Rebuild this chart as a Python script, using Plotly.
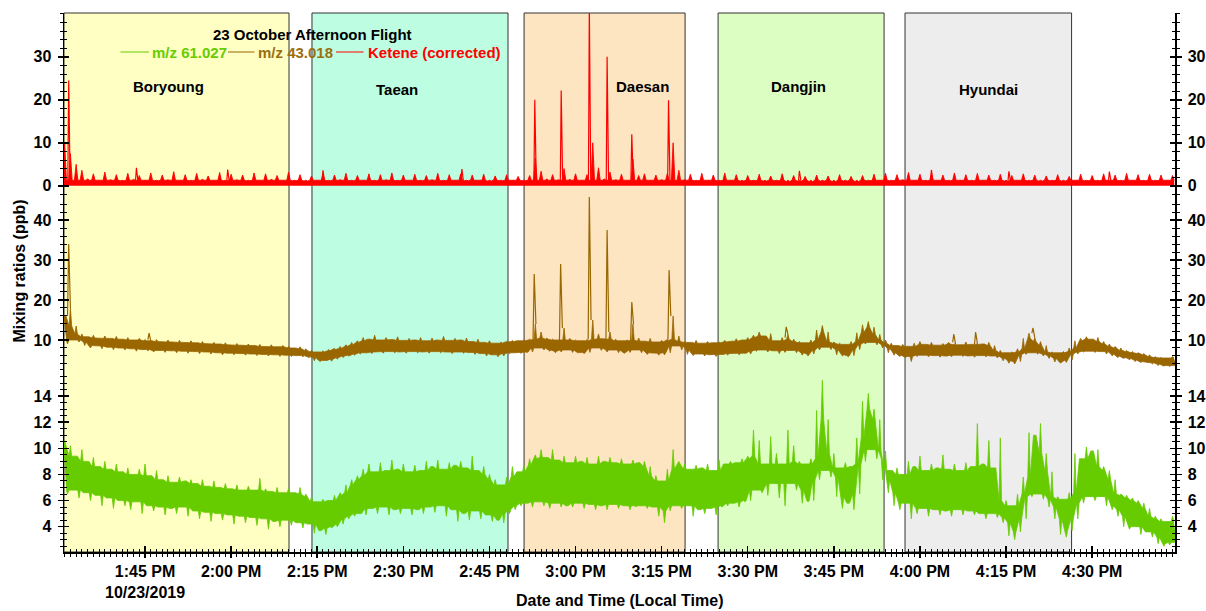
import plotly.graph_objects as go
from datetime import datetime, timedelta
import math

# ---------------- data ----------------
BASE = datetime(2019, 10, 23, 13, 30)
minute_offsets = list(range(1, 195))  # minutes after 1:30 PM

ketene_core = 1.3  # level of the dense part of the ketene noise band
ketene_hi = [
    10.0, 7.5, 5.0, 3.6, 1.6, 2.8, 1.3, 3.2, 1.4, 2.6,
    1.2, 2.9, 1.5, 2.4, 1.3, 3.0, 1.2, 2.5, 1.4, 3.3,
    1.3, 2.6, 1.2, 2.9, 1.5, 2.3, 1.3, 3.1, 1.2, 2.7,
    1.4, 2.5, 1.2, 3.0, 1.3, 2.8, 1.5, 2.4, 1.3, 3.2,
    1.2, 2.6, 1.1, 2.3, 1.3, 2.7, 1.2, 2.5, 1.4, 2.9,
    1.2, 2.4, 1.3, 2.8, 1.2, 2.6, 1.4, 3.0, 1.2, 2.5,
    1.3, 2.7, 1.2, 2.4, 1.4, 2.9, 1.2, 2.6, 1.3, 2.8,
    1.2, 2.5, 1.3, 2.7, 1.1, 2.3, 1.2, 2.6, 1.3, 2.2,
    1.2, 2.4, 6.4, 3.4, 1.6, 2.6, 1.4, 4.0, 1.5, 2.8,
    1.3, 2.6, 10.0, 4.2, 1.6, 3.2, 1.4, 2.7, 1.3, 6.2,
    2.4, 2.8, 1.3, 2.5, 1.4, 2.9, 10.0, 3.6, 1.4, 2.7,
    1.2, 2.9, 1.3, 2.5, 1.2, 3.0, 1.3, 2.6, 1.1, 2.4,
    1.2, 2.7, 1.1, 2.3, 1.2, 2.8, 1.0, 2.4, 1.1, 2.2,
    1.0, 2.5, 1.1, 2.3, 1.0, 2.6, 1.1, 2.2, 1.0, 2.4,
    1.2, 2.7, 1.3, 2.9, 1.2, 2.6, 1.4, 3.1, 1.3, 2.7,
    1.2, 2.8, 1.3, 2.5, 1.2, 3.0, 1.3, 2.6, 1.2, 2.9,
    1.3, 2.5, 1.2, 2.7, 1.1, 2.4, 1.3, 2.8, 1.2, 2.5,
    1.1, 2.3, 1.2, 2.6, 1.1, 2.2, 1.3, 2.7, 1.2, 2.4,
    1.2, 2.8, 1.3, 2.5, 1.2, 2.9, 1.3, 2.6, 1.2, 2.7,
    1.2, 2.5, 1.3, 2.4,
]
ketene_spike_t = [1.7, 13.5, 29.4, 46.0, 70.2, 82.9, 87.5, 92.4, 95.5, 99.8, 106.2, 129.0, 152.0, 165.5, 183.0]
ketene_spike_v = [24.5, 4.2, 3.8, 3.6, 3.9, 20.0, 22.2, 42.0, 30.0, 12.0, 19.9, 3.5, 3.7, 3.4, 3.3]

mz43_lo = [
    9.0, 10.0, 9.5, 8.6, 8.0, 8.5, 7.8, 8.2, 7.6, 8.0,
    7.5, 7.8, 7.2, 7.6, 7.3, 7.0, 7.4, 6.9, 7.3, 6.8,
    7.2, 6.7, 7.1, 6.6, 7.0, 6.5, 6.8, 6.3, 6.7, 6.3,
    6.6, 6.2, 6.5, 6.1, 6.4, 6.0, 6.3, 5.9, 6.2, 5.9,
    6.1, 5.8, 5.6, 4.8, 4.6, 4.9, 4.7, 5.2, 5.6, 6.0,
    6.2, 6.5, 6.8, 6.6, 7.0, 6.7, 7.1, 6.8, 7.0, 6.7,
    7.1, 6.8, 7.0, 6.7, 7.1, 6.8, 7.0, 6.6, 7.0, 6.7,
    6.9, 6.4, 6.6, 6.0, 6.3, 5.8, 6.0, 6.6, 6.8, 6.7,
    6.9, 7.0, 8.0, 7.5, 7.2, 6.8, 7.0, 7.5, 6.9, 6.8,
    6.6, 6.9, 8.0, 7.4, 7.0, 7.5, 6.8, 6.7, 6.9, 7.5,
    6.8, 6.4, 6.7, 6.2, 6.3, 6.8, 8.5, 7.5, 6.4, 6.1,
    6.5, 6.0, 6.3, 5.9, 6.4, 6.2, 6.6, 6.3, 6.7, 6.5,
    7.2, 7.5, 7.0, 7.3, 6.6, 6.9, 7.4, 6.8, 6.2, 6.0,
    6.5, 7.5, 8.2, 7.6, 6.3, 6.0, 5.8, 6.1, 7.6, 9.0,
    9.4, 8.8, 8.0, 6.8, 6.2, 5.9, 5.6, 4.6, 5.9, 6.2,
    5.8, 6.1, 5.7, 6.0, 5.8, 6.2, 5.9, 6.0, 5.7, 6.1,
    5.8, 6.0, 5.5, 4.8, 4.2, 4.0, 4.6, 6.4, 6.8, 6.5,
    6.0, 5.4, 4.5, 4.2, 4.4, 5.0, 6.5, 7.0, 7.2, 6.9,
    7.1, 6.5, 6.0, 5.6, 5.4, 5.0, 4.6, 4.4, 4.3, 4.0,
    3.6, 3.5, 3.4, 3.6,
]
mz43_hi = [
    16.0, 18.0, 13.5, 11.5, 10.8, 11.2, 10.5, 11.0, 10.4, 10.9,
    10.2, 10.6, 10.0, 10.4, 10.1, 9.8, 10.1, 9.6, 10.0, 9.5,
    9.9, 9.4, 9.8, 9.3, 9.6, 9.1, 9.4, 9.0, 9.3, 8.8,
    9.1, 8.7, 9.0, 8.6, 8.9, 8.4, 8.8, 8.3, 8.6, 8.4,
    8.0, 8.3, 7.8, 7.4, 7.0, 7.3, 7.6, 7.9, 8.4, 8.8,
    9.4, 9.8, 10.6, 10.2, 11.2, 10.0, 10.6, 10.1, 10.8, 9.9,
    10.4, 10.0, 10.6, 9.8, 10.5, 10.0, 10.9, 9.9, 10.4, 10.0,
    10.5, 9.6, 10.2, 9.4, 9.8, 9.2, 9.5, 9.6, 9.9, 9.8,
    10.0, 10.2, 14.0, 12.0, 10.5, 10.2, 10.0, 13.0, 10.4, 10.0,
    9.8, 10.1, 15.0, 11.5, 10.3, 12.0, 10.2, 9.8, 10.0, 14.0,
    10.5, 9.7, 10.4, 9.5, 9.9, 10.2, 16.0, 11.0, 9.6, 9.4,
    9.9, 9.2, 9.6, 9.3, 9.5, 9.9, 9.7, 10.3, 10.0, 10.6,
    11.2, 12.0, 11.0, 11.6, 9.8, 10.6, 11.5, 10.2, 9.6, 9.3,
    10.0, 12.5, 13.6, 12.0, 9.5, 9.2, 8.9, 9.6, 11.8, 13.8,
    14.6, 13.2, 11.4, 10.0, 9.2, 8.6, 8.9, 8.4, 9.2, 9.6,
    8.9, 9.4, 8.7, 9.1, 9.4, 9.0, 8.8, 9.5, 8.9, 9.2,
    9.0, 9.4, 8.6, 7.4, 6.8, 7.0, 7.8, 10.4, 11.7, 10.6,
    9.6, 8.6, 7.0, 6.8, 7.1, 8.0, 9.8, 10.4, 10.8, 10.2,
    10.6, 9.6, 9.0, 8.4, 8.0, 7.4, 7.1, 6.8, 6.6, 6.3,
    5.8, 5.6, 5.5, 5.9,
]
mz43_spike_t = [1.7, 15.7, 82.8, 87.4, 92.4, 95.5, 99.8, 106.3, 126.7, 155.9, 159.7, 169.7]
mz43_spike_v = [34.0, 11.7, 26.5, 29.0, 46.0, 37.5, 19.5, 27.5, 13.3, 11.5, 12.0, 13.0]

mz61_lo = [
    6.5, 6.8, 6.2, 6.6, 6.0, 6.4, 5.6, 6.2, 5.4, 6.0,
    5.6, 5.3, 5.9, 5.0, 5.6, 5.2, 5.5, 4.9, 5.4, 5.0,
    5.5, 4.8, 5.2, 4.6, 5.1, 4.4, 5.0, 4.5, 4.9, 4.2,
    4.8, 4.3, 4.7, 4.1, 4.6, 3.8, 4.4, 4.0, 4.5, 4.1,
    4.3, 3.9, 4.2, 3.5, 3.7, 3.4, 3.9, 4.0, 4.2, 4.6,
    4.8, 5.0, 4.9, 5.4, 5.0, 5.5, 4.9, 5.3, 5.0, 5.4,
    4.9, 5.3, 5.0, 5.5, 5.1, 5.6, 4.8, 5.3, 4.4, 5.0,
    4.5, 5.2, 4.6, 4.9, 4.4, 4.5, 4.3, 5.0, 5.3, 5.6,
    5.8, 5.5, 5.9, 5.6, 5.4, 5.8, 5.5, 5.6, 5.5, 5.8,
    5.4, 5.7, 5.3, 5.6, 5.3, 5.7, 5.4, 5.6, 5.3, 5.5,
    5.6, 5.4, 5.5, 4.8, 4.3, 5.2, 5.6, 5.4, 5.6, 4.8,
    5.3, 5.0, 5.4, 4.9, 5.5, 5.6, 5.8, 5.5, 5.9, 6.0,
    6.8, 6.6, 6.4, 7.3, 6.2, 5.6, 7.3, 6.8, 5.8, 5.9,
    6.0, 7.6, 8.3, 7.8, 6.3, 5.4, 5.8, 5.3, 6.5, 9.0,
    9.9, 9.2, 7.6, 6.6, 5.6, 5.3, 5.8, 4.6, 5.0, 5.4,
    4.8, 5.3, 4.9, 5.2, 4.8, 5.3, 4.9, 5.2, 4.9, 5.0,
    4.6, 5.0, 4.7, 4.3, 3.3, 3.0, 3.6, 4.6, 6.3, 6.5,
    6.1, 5.5, 4.6, 3.4, 3.2, 3.7, 4.6, 5.8, 6.3, 6.0,
    6.3, 5.6, 5.3, 4.8, 4.0, 3.8, 4.0, 3.4, 3.6, 3.2,
    2.7, 2.5, 2.6, 2.8,
]
mz61_hi = [
    10.6, 10.2, 9.4, 9.9, 9.0, 9.3, 8.6, 9.0, 8.4, 8.8,
    8.2, 8.5, 8.0, 8.4, 8.8, 7.9, 8.3, 7.6, 7.9, 7.4,
    7.8, 7.5, 7.6, 7.3, 7.6, 7.1, 7.5, 7.0, 7.3, 6.9,
    7.2, 6.8, 7.1, 6.8, 7.7, 6.9, 6.7, 7.0, 6.6, 6.9,
    6.6, 7.0, 6.5, 6.3, 5.9, 6.1, 6.0, 6.4, 6.6, 7.2,
    7.6, 7.9, 8.4, 8.8, 8.2, 8.9, 8.3, 9.1, 8.4, 8.8,
    8.2, 8.7, 8.3, 9.0, 8.6, 9.1, 8.4, 8.9, 8.7, 9.0,
    8.5, 9.4, 8.3, 8.6, 8.0, 7.6, 7.2, 7.8, 8.6, 8.2,
    8.7, 9.2, 9.5, 9.9, 9.3, 9.9, 9.1, 9.4, 8.9, 9.4,
    9.0, 9.3, 8.8, 9.4, 9.0, 9.3, 8.9, 9.2, 8.8, 9.1,
    8.9, 9.0, 8.6, 7.9, 7.5, 8.4, 9.9, 9.0, 8.8, 8.4,
    8.7, 8.5, 8.8, 8.3, 9.1, 8.8, 9.0, 8.9, 9.2, 9.4,
    11.4, 10.6, 8.8, 10.9, 9.6, 8.8, 11.4, 10.2, 9.0, 8.8,
    9.2, 12.9, 15.2, 12.2, 9.6, 8.5, 8.9, 8.6, 10.8, 13.6,
    14.2, 13.0, 12.2, 9.8, 8.3, 8.5, 8.0, 9.0, 8.6, 9.4,
    8.3, 8.8, 8.5, 9.5, 8.4, 8.8, 8.3, 8.9, 8.6, 11.9,
    8.8, 10.6, 8.5, 10.8, 6.0, 5.6, 6.5, 7.8, 11.2, 11.0,
    11.9, 9.6, 8.2, 6.3, 6.1, 6.6, 9.6, 9.2, 10.1, 9.8,
    9.9, 8.6, 8.3, 7.6, 6.5, 6.4, 6.2, 6.0, 5.8, 5.4,
    4.8, 4.6, 4.4, 4.8,
]

region_names = ["Boryoung", "Taean", "Daesan", "Dangjin", "Hyundai"]
region_start = ["2019-10-23 13:30:53", "2019-10-23 14:14:05", "2019-10-23 14:51:02",
                "2019-10-23 15:24:50", "2019-10-23 15:57:24"]
region_end = ["2019-10-23 14:10:05", "2019-10-23 14:48:14", "2019-10-23 15:19:05",
              "2019-10-23 15:53:45", "2019-10-23 16:26:25"]
region_fill = ["#FFFFC4", "#BDFEE2", "#FDE5C2", "#DDFEC3", "#EDEDED"]

tick_times = ["2019-10-23 13:45", "2019-10-23 14:00", "2019-10-23 14:15", "2019-10-23 14:30",
              "2019-10-23 14:45", "2019-10-23 15:00", "2019-10-23 15:15", "2019-10-23 15:30",
              "2019-10-23 15:45", "2019-10-23 16:00", "2019-10-23 16:15", "2019-10-23 16:30"]
tick_labels = ["1:45 PM<br>10/23/2019", "2:00 PM", "2:15 PM", "2:30 PM", "2:45 PM", "3:00 PM",
               "3:15 PM", "3:30 PM", "3:45 PM", "4:00 PM", "4:15 PM", "4:30 PM"]

ketene_ticks = [0, 10, 20, 30]
mz43_ticks = [10, 20, 30, 40]
mz61_ticks = [4, 6, 8, 10, 12, 14]

# ---------------- styling ----------------
FONT = "Liberation Sans, Arial, sans-serif"
GREEN = "#66CC00"
BROWN = "#996600"
RED = "#FF0000"
X_RANGE = ["2019-10-23 13:30:53", "2019-10-23 16:44:26"]

FIG_W, FIG_H = 1206, 611
PL, PR, PT, PB = 64, 1175, 13, 552   # plot area in window pixels


def tstamp(m):
    return BASE + timedelta(minutes=m)


fig = go.Figure()


def add_band(lo, hi, color, yref):
    n = len(lo)
    up_x, up_y, dn_x, dn_y = [], [], [], []
    for i, m in enumerate(minute_offsets):
        nb = range(max(i - 1, 0), min(i + 2, n))
        core_hi = min(hi[j] for j in nb)
        core_lo = max(lo[j] for j in nb)
        if core_lo > core_hi:
            core_lo = core_hi = (core_lo + core_hi) / 2
        up_x += [tstamp(m - 0.22), tstamp(m), tstamp(m + 0.22)]
        up_y += [core_hi, hi[i], core_hi]
        dn_x += [tstamp(m + 0.28), tstamp(m + 0.5), tstamp(m + 0.72)]
        dn_y += [core_lo, lo[i], core_lo]
    fig.add_trace(go.Scatter(x=dn_x, y=dn_y, mode="lines", line=dict(color=color, width=0.8),
                             xaxis="x", yaxis=yref, hoverinfo="skip", showlegend=False))
    fig.add_trace(go.Scatter(x=up_x, y=up_y, mode="lines", line=dict(color=color, width=0.8),
                             fill="tonexty", fillcolor=color,
                             xaxis="x", yaxis=yref, hoverinfo="skip", showlegend=False))


def add_spikes(st, sv, hi, color, yref):
    xs, ys = [], []
    n = len(hi)
    for t, v in zip(st, sv):
        i0 = min(max(int(math.floor(t)) - 1, 0), n - 1)
        i1 = min(max(int(math.ceil(t)) - 1, 0), n - 1)
        xs += [tstamp(t - 0.2), tstamp(t), tstamp(t + 0.3), None]
        ys += [hi[i0], v, hi[i1], None]
    fig.add_trace(go.Scatter(x=xs, y=ys, mode="lines", line=dict(color=color, width=1.2),
                             xaxis="x", yaxis=yref, hoverinfo="skip", showlegend=False,
                             connectgaps=False))


# bottom panel: m/z 61.027
add_band(mz61_lo, mz61_hi, GREEN, "y3")
# middle panel: m/z 43.018
add_band(mz43_lo, mz43_hi, BROWN, "y2")
add_spikes(mz43_spike_t, mz43_spike_v, mz43_hi, BROWN, "y2")

# top panel: ketene -- dense core plus narrow noise spikes each minute
kx, ky = [], []
for m, h in zip(minute_offsets, ketene_hi):
    kx += [tstamp(m - 0.3), tstamp(m), tstamp(m + 0.3)]
    ky += [min(ketene_core, h), max(h, ketene_core), min(ketene_core, h)]
fig.add_trace(go.Scatter(x=kx, y=ky, mode="lines", line=dict(color=RED, width=0.9),
                         fill="tozeroy", fillcolor=RED, xaxis="x", yaxis="y",
                         hoverinfo="skip", showlegend=False))
ksx, ksy = [], []
for t, v in zip(ketene_spike_t, ketene_spike_v):
    ksx += [tstamp(t - 0.15), tstamp(t), tstamp(t + 0.25), None]
    ksy += [ketene_core, v, ketene_core, None]
fig.add_trace(go.Scatter(x=ksx, y=ksy, mode="lines", line=dict(color=RED, width=1.2),
                         xaxis="x", yaxis="y", hoverinfo="skip", showlegend=False))

# dummy traces so overlay axes get drawn
for ya in ["y4", "y5", "y6", "y7", "y8", "y9", "y10", "y11", "y12"]:
    fig.add_trace(go.Scatter(x=[None], y=[None], xaxis="x", yaxis=ya, showlegend=False, hoverinfo="skip"))
fig.add_trace(go.Scatter(x=[None], y=[None], xaxis="x2", yaxis="y3", showlegend=False, hoverinfo="skip"))

tickfont = dict(family=FONT, size=16, color="black", weight="bold")


def yaxis_def(rng, tickvals, minor_dtick, side, inside, labels, domain=None, overlay=None):
    d = dict(range=rng, tickmode="array", tickvals=tickvals,
             ticks="inside" if inside else "outside", ticklen=5, tickwidth=1.5, tickcolor="black",
             showticklabels=labels, tickfont=tickfont, ticklabelstandoff=3,
             showgrid=False, zeroline=False, showline=labels and not inside,
             linecolor="black", linewidth=1.5, side=side, anchor="x", fixedrange=True,
             automargin=False,
             minor=dict(tickmode="linear", tick0=0, dtick=minor_dtick,
                        ticks="inside" if inside else "outside", ticklen=3, tickwidth=1,
                        tickcolor="black", showgrid=False))
    if domain is not None:
        d["domain"] = domain
    if overlay is not None:
        d["overlaying"] = overlay
    return d


top_dom = [0.6586, 1.0]
mid_dom = [0.3377, 0.6586]
bot_dom = [0.0, 0.3377]
top_rng = [-2.6, 40.2]
mid_rng = [2.5, 45.75]
bot_rng = [2.06, 16.0]

layout_axes = dict(
    yaxis=yaxis_def(top_rng, ketene_ticks, 2, "left", False, True, domain=top_dom),
    yaxis2=yaxis_def(mid_rng, mz43_ticks, 2, "left", False, True, domain=mid_dom),
    yaxis3=yaxis_def(bot_rng, mz61_ticks, 0.5, "left", False, True, domain=bot_dom),
    yaxis4=yaxis_def(top_rng, ketene_ticks, 2, "left", True, False, overlay="y"),
    yaxis5=yaxis_def(top_rng, ketene_ticks, 2, "right", False, True, overlay="y"),
    yaxis6=yaxis_def(top_rng, ketene_ticks, 2, "right", True, False, overlay="y"),
    yaxis7=yaxis_def(mid_rng, mz43_ticks, 2, "left", True, False, overlay="y2"),
    yaxis8=yaxis_def(mid_rng, mz43_ticks, 2, "right", False, True, overlay="y2"),
    yaxis9=yaxis_def(mid_rng, mz43_ticks, 2, "right", True, False, overlay="y2"),
    yaxis10=yaxis_def(bot_rng, mz61_ticks, 0.5, "left", True, False, overlay="y3"),
    yaxis11=yaxis_def(bot_rng, mz61_ticks, 0.5, "right", False, True, overlay="y3"),
    yaxis12=yaxis_def(bot_rng, mz61_ticks, 0.5, "right", True, False, overlay="y3"),
)

xaxis = dict(type="date", range=X_RANGE, tickmode="array", tickvals=tick_times, ticktext=tick_labels,
             ticks="outside", ticklen=4, tickwidth=1.5, tickcolor="black", showline=True,
             linecolor="black", linewidth=1.5, anchor="y3", tickfont=tickfont, ticklabelstandoff=0,
             showgrid=False, zeroline=False, fixedrange=True, automargin=False,
             minor=dict(tickmode="linear", tick0="2019-10-23 13:30", dtick=60000, ticks="outside",
                        ticklen=3, tickwidth=1, tickcolor="black", showgrid=False))
xaxis2 = dict(type="date", range=X_RANGE, tickmode="array", tickvals=tick_times,
              ticks="inside", ticklen=6, tickwidth=1.5, tickcolor="black", showline=False,
              showticklabels=False, anchor="y3", overlaying="x", showgrid=False, zeroline=False,
              fixedrange=True, automargin=False,
              minor=dict(tickmode="linear", tick0="2019-10-23 13:30", dtick=60000, ticks="inside",
                         ticklen=3, tickwidth=1, tickcolor="black", showgrid=False))

shapes = []
for s, e, c in zip(region_start, region_end, region_fill):
    shapes.append(dict(type="rect", xref="x", yref="paper", x0=s, x1=e, y0=0, y1=1,
                       fillcolor=c, line=dict(color="#333333", width=1), layer="below"))


def px(xp):
    return (xp - PL) / (PR - PL)


def py(yp):
    return (PB - yp) / (PB - PT)


# legend line samples
for x0, x1, c in [(120.5, 149, GREEN), (228, 254.5, BROWN), (336, 363.6, RED)]:
    shapes.append(dict(type="line", xref="paper", yref="paper", x0=px(x0), x1=px(x1),
                       y0=py(52), y1=py(52), line=dict(color=c, width=1)))

annotations = []


def ann(text, x, y, color="black", size=15, xanchor="center", angle=0):
    annotations.append(dict(text=text, x=x, y=y, xref="paper", yref="paper", showarrow=False,
                            xanchor=xanchor, yanchor="middle", textangle=angle,
                            font=dict(family=FONT, size=size, color=color, weight="bold")))


ann("23 October Afternoon Flight", px(312), py(34), size=15)
ann("m/z 61.027", px(150), py(52), color=GREEN, xanchor="left")
ann("m/z 43.018", px(256), py(52), color="#9C6E10", xanchor="left")
ann("Ketene (corrected)", px(365.5), py(52), color=RED, xanchor="left")

label_pos = [(168, 87), (397, 89), (642.5, 86), (798, 86), (988.5, 89)]
for name, (lx, ly) in zip(region_names, label_pos):
    ann(name, px(lx), py(ly), size=15)

ann("Mixing ratios (ppb)", px(19), py(271.5), size=16, angle=-90)
ann("Date and Time (Local Time)", px(619.5), py(600), size=16)

fig.update_layout(
    template="none",
    width=FIG_W, height=FIG_H,
    margin=dict(l=PL, r=FIG_W - PR, t=PT, b=FIG_H - PB, pad=0, autoexpand=False),
    plot_bgcolor="white", paper_bgcolor="white",
    showlegend=False,
    xaxis=xaxis, xaxis2=xaxis2,
    shapes=shapes, annotations=annotations,
    **layout_axes,
)

# remove the browser's default 8 px body margin so the figure fills the window exactly
fig.write_html("out.html",
               config={"displayModeBar": False, "staticPlot": True},
               post_script="document.body.style.margin='0px';document.body.style.overflow='hidden';")
